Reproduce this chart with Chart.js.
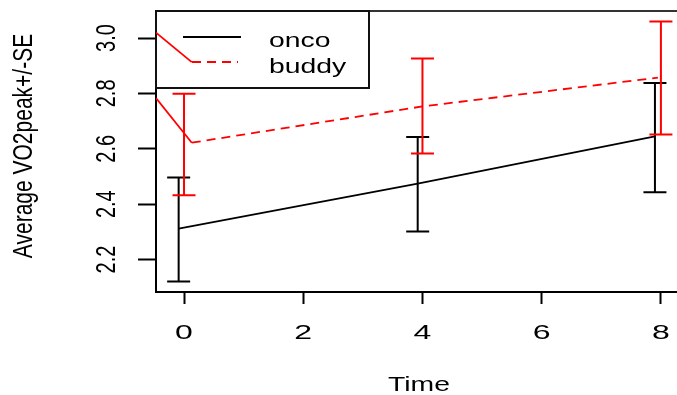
<!DOCTYPE html>
<html>
<head>
<meta charset="utf-8">
<script src="https://cdn.jsdelivr.net/npm/chart.js@4.4.1/dist/chart.umd.min.js"></script>
<style>
    html, body { margin: 0; padding: 0; background: #fff; overflow: hidden; }
    #wrap { width: 677px; height: 395px; }
</style>
</head>
<body>
<div id="wrap"><canvas id="chart" width="677" height="395"></canvas></div>
<script>
// Axis ticks
const xTicks = [0, 2, 4, 6, 8];
const yTicks = [2.2, 2.4, 2.6, 2.8, 3.0];
const yTickLabels = ['2.2', '2.4', '2.6', '2.8', '3.0'];

// onco series (black, solid) - mean and +/- SE
const oncoX = [-0.09, 3.92, 7.90];
const oncoY = [2.312, 2.474, 2.645];
const oncoLo = [2.121, 2.301, 2.443];
const oncoHi = [2.496, 2.643, 2.838];

// buddy series (red, dashed)
const buddyX = [0.13, 4, 7.95];
const buddyY = [2.622, 2.753, 2.857];
const buddyBarX = [0, 4, 8];
const buddyLo = [2.432, 2.583, 2.652];
const buddyHi = [2.799, 2.926, 3.060];

// stray red segments coming in from the left edge
const strayTopX = [-0.47, 0.13];
const strayTopY = [3.0195, 2.913];
const strayMidX = [-0.47, 0.13];
const strayMidY = [2.783, 2.622];

const STRETCH = 1.35;
const FONT = '"Liberation Sans", Arial, sans-serif';

const toPoints = (xs, ys) => xs.map((x, i) => ({ x, y: ys[i] }));

function hText(ctx, s, x, y, stretch = STRETCH) {
    ctx.save();
    ctx.translate(x, y);
    ctx.scale(stretch, 1);
    ctx.fillText(s, 0, 0);
    ctx.restore();
}

function vText(ctx, s, x, y) {
    ctx.save();
    ctx.translate(x, y);
    ctx.rotate(-Math.PI / 2);
    ctx.scale(1, STRETCH);
    ctx.fillText(s, 0, 0);
    ctx.restore();
}

// legend box + top frame line, drawn under the datasets
const legendPlugin = {
    id: 'rLegend',
    beforeDatasetsDraw(chart) {
        const ctx = chart.ctx;
        const area = chart.chartArea;
        ctx.save();
        ctx.strokeStyle = '#333';
        ctx.lineWidth = 2;
        ctx.beginPath();
        ctx.moveTo(area.left, area.top);
        ctx.lineTo(area.right, area.top);
        ctx.stroke();

        ctx.fillStyle = '#fff';
        ctx.fillRect(area.left, area.top, 213, 77);
        ctx.strokeStyle = '#111';
        ctx.strokeRect(area.left, area.top, 213, 77);

        ctx.lineWidth = 1.8;
        ctx.strokeStyle = '#000';
        ctx.beginPath();
        ctx.moveTo(183, 37);
        ctx.lineTo(241, 37);
        ctx.stroke();

        ctx.strokeStyle = '#ff0000';
        ctx.setLineDash([9, 6]);
        ctx.beginPath();
        ctx.moveTo(192, 62);
        ctx.lineTo(238, 62);
        ctx.stroke();
        ctx.setLineDash([]);

        ctx.fillStyle = '#000';
        ctx.font = '21px ' + FONT;
        ctx.textAlign = 'left';
        ctx.textBaseline = 'alphabetic';
        hText(ctx, 'onco', 269, 47);
        hText(ctx, 'buddy', 269, 72.5);
        ctx.restore();
    }
};

// error bars with flat caps
const errorBarPlugin = {
    id: 'errorBars',
    afterDatasetsDraw(chart) {
        const ctx = chart.ctx;
        const xs = chart.scales.x;
        const ys = chart.scales.y;
        const cap = 11.5;
        const drawBars = (bx, lo, hi, color) => {
            ctx.strokeStyle = color;
            bx.forEach((x, i) => {
                const px = xs.getPixelForValue(x);
                const pLo = ys.getPixelForValue(lo[i]);
                const pHi = ys.getPixelForValue(hi[i]);
                ctx.beginPath();
                ctx.moveTo(px, pLo);
                ctx.lineTo(px, pHi);
                ctx.moveTo(px - cap, pLo);
                ctx.lineTo(px + cap, pLo);
                ctx.moveTo(px - cap, pHi);
                ctx.lineTo(px + cap, pHi);
                ctx.stroke();
            });
        };
        ctx.save();
        ctx.lineWidth = 2;
        drawBars(oncoX, oncoLo, oncoHi, '#000');
        drawBars(buddyBarX, buddyLo, buddyHi, '#ff0000');
        ctx.restore();
    }
};

// tick labels and axis titles, R style (y labels read upward)
const textPlugin = {
    id: 'rText',
    afterDraw(chart) {
        const ctx = chart.ctx;
        const xs = chart.scales.x;
        const ys = chart.scales.y;
        ctx.save();
        ctx.fillStyle = '#000';
        ctx.textAlign = 'center';
        ctx.textBaseline = 'alphabetic';
        ctx.font = '20px ' + FONT;
        xTicks.forEach(v => hText(ctx, String(v), xs.getPixelForValue(v), 338.5, 1.6));
        yTicks.forEach((v, i) => vText(ctx, yTickLabels[i], 115, ys.getPixelForValue(v)));
        ctx.font = '21px ' + FONT;
        hText(ctx, 'Time', 419, 391);
        vText(ctx, 'Average VO2peak+/-SE', 32, 146);
        ctx.restore();
    }
};

new Chart(document.getElementById('chart'), {
    type: 'line',
    data: {
        datasets: [
            {
                label: 'onco',
                data: toPoints(oncoX, oncoY),
                borderColor: '#000',
                borderWidth: 1.8,
                pointRadius: 0,
                tension: 0,
            },
            {
                label: 'buddy',
                data: toPoints(buddyX, buddyY),
                borderColor: '#ff0000',
                borderWidth: 1.8,
                borderDash: [9, 6],
                pointRadius: 0,
                tension: 0,
            },
            {
                label: 'strayTop',
                data: toPoints(strayTopX, strayTopY),
                borderColor: '#ff0000',
                borderWidth: 1.8,
                pointRadius: 0,
            },
            {
                label: 'strayMid',
                data: toPoints(strayMidX, strayMidY),
                borderColor: '#ff0000',
                borderWidth: 1.8,
                pointRadius: 0,
            },
        ],
    },
    options: {
        responsive: false,
        animation: false,
        devicePixelRatio: 1,
        layout: { padding: { left: 138, top: 11, right: 0, bottom: 91 } },
        plugins: {
            legend: { display: false },
            tooltip: { enabled: false },
        },
        scales: {
            x: {
                type: 'linear',
                min: -0.47,
                max: 8.27,
                afterBuildTicks: scale => { scale.ticks = xTicks.map(v => ({ value: v })); },
                ticks: { display: false },
                grid: { drawOnChartArea: false, tickLength: 12, tickWidth: 2, tickColor: '#000' },
                border: { display: true, color: '#000', width: 2 },
            },
            y: {
                type: 'linear',
                min: 2.083,
                max: 3.0975,
                afterBuildTicks: scale => { scale.ticks = yTicks.map(v => ({ value: v })); },
                ticks: { display: false },
                grid: { drawOnChartArea: false, tickLength: 18, tickWidth: 2, tickColor: '#000' },
                border: { display: true, color: '#000', width: 2 },
            },
        },
    },
    plugins: [legendPlugin, errorBarPlugin, textPlugin],
});
</script>
</body>
</html>
